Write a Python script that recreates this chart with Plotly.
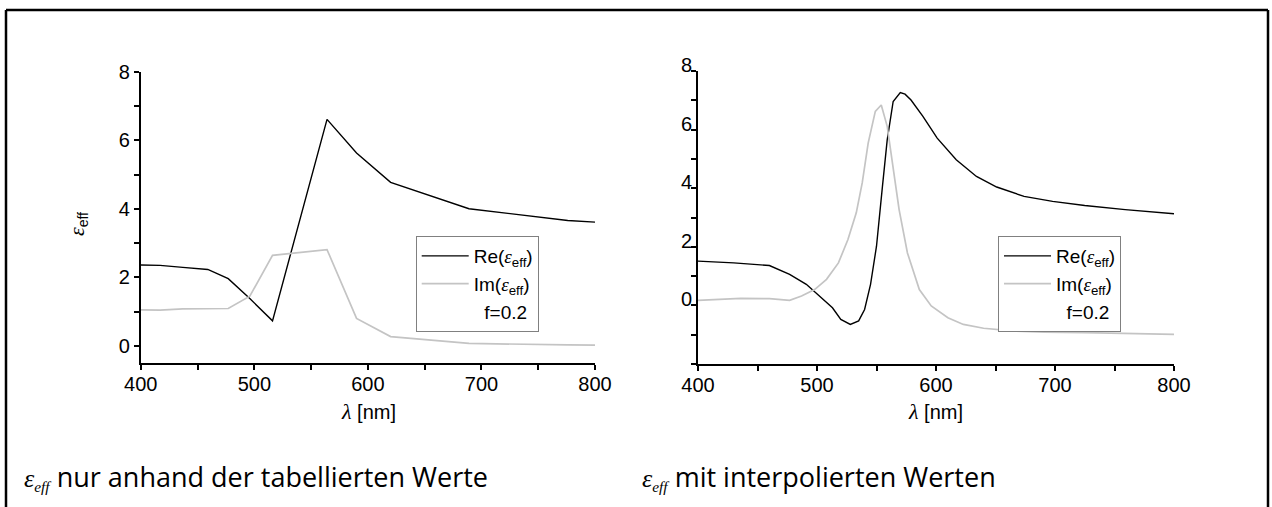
import plotly.graph_objects as go

# ---------------- data ----------------
# left panel: tabulated values only
lam_tab = [400, 417, 437, 459, 477, 496, 516, 564, 590, 620, 689, 776, 800]
re_tab = [2.36, 2.35, 2.29, 2.23, 1.96, 1.38, 0.73, 6.61, 5.63, 4.77, 4.00, 3.66, 3.61]
im_tab = [1.05, 1.04, 1.08, 1.08, 1.09, 1.45, 2.64, 2.81, 0.80, 0.27, 0.07, 0.03, 0.02]

# right panel: interpolated values
lam_re_int = [400, 430, 460, 477, 491, 504, 513, 520, 528, 535, 540, 545, 550, 555, 559,
              564, 570, 574, 579, 589, 601, 617, 634, 651, 674, 698, 725, 759, 800]
re_int = [1.51, 1.45, 1.36, 1.06, 0.72, 0.26, -0.08, -0.48, -0.65, -0.53, -0.14, 0.72, 2.02,
          4.06, 5.65, 6.96, 7.26, 7.21, 7.01, 6.45, 5.71, 4.97, 4.40, 4.04, 3.72, 3.55, 3.41,
          3.27, 3.13]
lam_im_int = [400, 436, 460, 477, 487, 498, 508, 518, 526, 533, 538, 543, 549, 554, 559,
              564, 569, 576, 586, 596, 610, 623, 640, 664, 691, 725, 759, 800]
im_int = [0.17, 0.24, 0.23, 0.17, 0.32, 0.54, 0.89, 1.45, 2.25, 3.16, 4.18, 5.54, 6.62, 6.84,
          6.11, 4.74, 3.27, 1.79, 0.54, -0.02, -0.42, -0.65, -0.78, -0.87, -0.91, -0.93, -0.96,
          -0.99]

x_ticks = [400, 450, 500, 550, 600, 650, 700, 750, 800]
x_labels = ["400", "", "500", "", "600", "", "700", "", "800"]
yl_ticks = [0, 1, 2, 3, 4, 5, 6, 7, 8]
yl_labels = ["0", "", "2", "", "4", "", "6", "", "8"]
yr_ticks = [-2, -1, 0, 1, 2, 3, 4, 5, 6, 7, 8]
yr_labels = ["", "", "0", "", "2", "", "4", "", "6", "", "8"]

W, H = 1272, 507
SERIF = "Liberation Serif, Times New Roman, serif"
SANS = "Liberation Sans, Arial, sans-serif"

def px(x):
    return x / W

def py(y):
    return 1 - y / H

eps = "<span style='font-family:%s'><i>ε</i></span>" % SERIF
re_name = "Re(" + eps + "<sub>eff</sub>)"
im_name = "Im(" + eps + "<sub>eff</sub>)"

fig = go.Figure()
fig.add_trace(go.Scatter(x=lam_tab, y=re_tab, mode="lines", name=re_name,
                         line=dict(color="black", width=1.4), legend="legend"))
fig.add_trace(go.Scatter(x=lam_tab, y=im_tab, mode="lines", name=im_name,
                         line=dict(color="#c4c4c4", width=1.7), legend="legend"))
fig.add_trace(go.Scatter(x=[None], y=[None], mode="lines", name="  f=0.2",
                         line=dict(color="white", width=0), legend="legend"))

fig.add_trace(go.Scatter(x=lam_re_int, y=re_int, mode="lines", name=re_name,
                         line=dict(color="black", width=1.4), xaxis="x2", yaxis="y2",
                         legend="legend2"))
fig.add_trace(go.Scatter(x=lam_im_int, y=im_int, mode="lines", name=im_name,
                         line=dict(color="#c4c4c4", width=1.7), xaxis="x2", yaxis="y2",
                         legend="legend2"))
fig.add_trace(go.Scatter(x=[None], y=[None], mode="lines", name="  f=0.2",
                         line=dict(color="white", width=0), xaxis="x2", yaxis="y2",
                         legend="legend2"))

axis_common = dict(showline=True, linecolor="black", linewidth=2, ticks="outside",
                   ticklen=5, tickwidth=1.5, tickcolor="black", showgrid=False,
                   zeroline=False, mirror=False, automargin=False,
                   tickfont=dict(size=20, color="black", family=SANS))

legend_common = dict(xanchor="left", yanchor="top", bgcolor="white", bordercolor="#808080",
                     borderwidth=1, font=dict(size=19, color="black", family=SANS),
                     tracegroupgap=0, itemwidth=47)

fig.update_layout(
    width=W, height=H, autosize=False,
    margin=dict(l=0, r=0, t=0, b=0, pad=0, autoexpand=False),
    paper_bgcolor="white", plot_bgcolor="white",
    font=dict(family=SANS, color="black"),
    xaxis=dict(domain=[px(140.8), px(595)], range=[400, 800], tickmode="array",
               tickvals=x_ticks, ticktext=x_labels, anchor="y", ticklabelstandoff=-3,
               **axis_common),
    yaxis=dict(domain=[py(363), py(71.7)], range=[-0.5, 8], tickmode="array",
               tickvals=yl_ticks, ticktext=yl_labels, anchor="x", **axis_common),
    xaxis2=dict(domain=[px(698), px(1174)], range=[400, 800], tickmode="array",
                tickvals=x_ticks, ticktext=x_labels, anchor="y2", ticklabelstandoff=-3,
                **axis_common),
    yaxis2=dict(domain=[py(364), py(71)], range=[-2, 8], tickmode="array",
                tickvals=yr_ticks, ticktext=yr_labels, anchor="x2",
                ticklabelshift=-6, ticklabelstandoff=-5, **axis_common),
    legend=dict(x=px(415.7), y=py(236), **legend_common),
    legend2=dict(x=px(998), y=py(236), **legend_common),
    showlegend=True,
)

lam_title = "<span style='font-family:%s;font-size:22px'><i>λ</i></span> [nm]" % SERIF
annotations = [
    dict(x=px(368), y=py(411), text=lam_title),
    dict(x=px(936), y=py(411), text=lam_title),
    dict(x=px(77), y=py(224), text="<span style='font-family:%s;font-size:22px'><i>ε</i></span><sub>eff</sub>" % SERIF,
         textangle=-90),
]
for a in annotations:
    a.update(xref="paper", yref="paper", showarrow=False, xanchor="center", yanchor="middle",
             font=dict(size=20, color="black", family=SANS))
    fig.add_annotation(**a)

cap_eps = ("<span style='font-family:%s;font-size:26px'><i>ε</i></span>"
           "<span style='font-family:%s;font-size:22px'><sub><i>eff</i></sub></span>") % (SERIF, SERIF)
captions = [
    (22, cap_eps + " nur anhand der tabellierten Werte"),
    (640, cap_eps + " mit interpolierten Werten"),
]
for xx, txt in captions:
    fig.add_annotation(x=px(xx), y=py(476), xref="paper", yref="paper", showarrow=False,
                       xanchor="left", yanchor="middle", text=txt,
                       font=dict(size=27, color="black", family="Open Sans, sans-serif"))

# outer frame
frame = dict(type="line", xref="paper", yref="paper", line=dict(color="black", width=2.5))
fig.add_shape(x0=px(6), x1=px(1268), y0=py(10), y1=py(10), **frame)
fig.add_shape(x0=px(6), x1=px(6), y0=py(10), y1=0, **frame)
fig.add_shape(x0=px(1268), x1=px(1268), y0=py(10), y1=0, **frame)

fig.write_html("out.html", config={"displayModeBar": False},
               post_script="document.body.style.margin='0';document.body.style.overflow='hidden';")
